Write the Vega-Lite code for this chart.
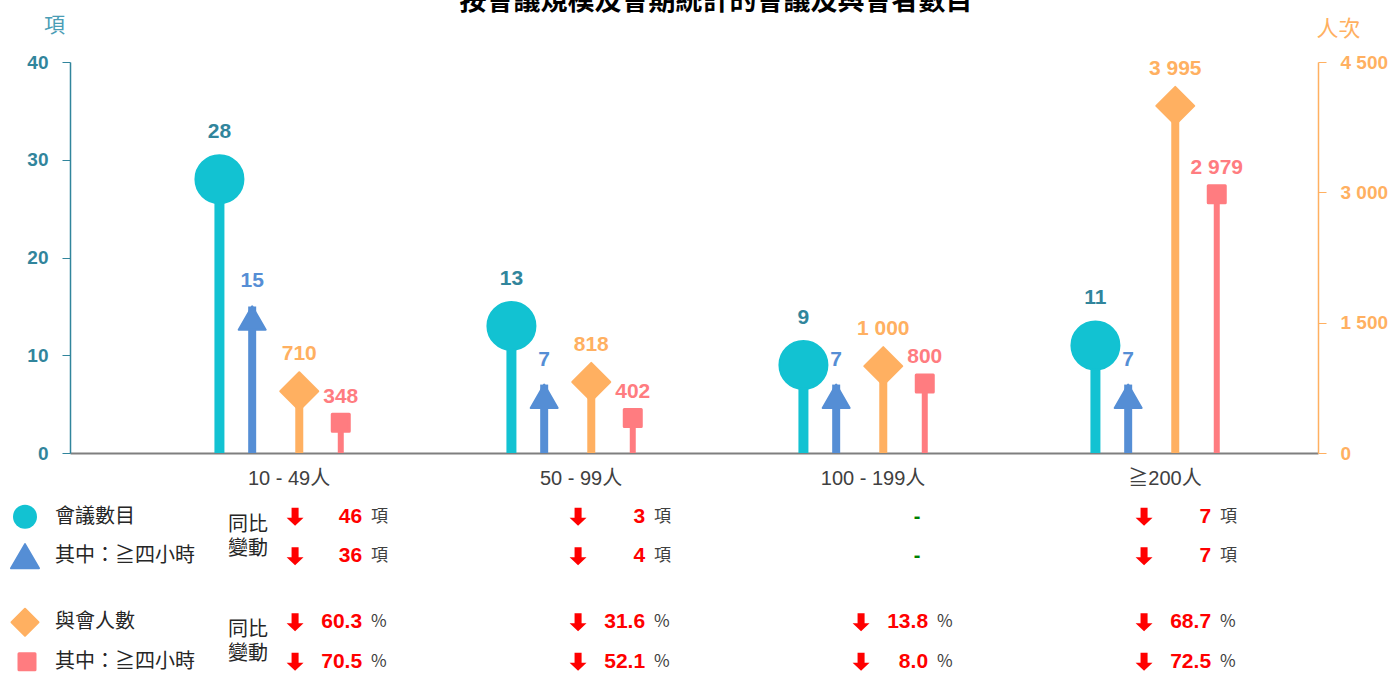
{
  "$schema": "https://vega.github.io/schema/vega-lite/v6.json",
  "width": 1248,
  "height": 391,
  "autosize": {"type": "none"},
  "padding": {"left": 70, "top": 62, "right": 73, "bottom": 220},
  "background": "white",
  "config": {
    "view": {"stroke": null},
    "locale": {"number": {"decimal": ".", "thousands": " ", "grouping": [3], "currency": ["", ""]}}
  },
  "title": {
    "text": "按會議規模及會期統計的會議及與會者數目",
    "font": "Noto Sans CJK TC",
    "fontSize": 27,
    "fontWeight": "bold",
    "color": "#000000",
    "anchor": "middle",
    "offset": -2,
    "dx": 22
  },
  "datasets": {
    "chart": [
      {"cat": "10 - 49人", "series": "會議數目", "axis": "項", "value": 28},
      {"cat": "10 - 49人", "series": "會議其中≧四小時", "axis": "項", "value": 15},
      {"cat": "10 - 49人", "series": "與會人數", "axis": "人次", "value": 710},
      {"cat": "10 - 49人", "series": "與會其中≧四小時", "axis": "人次", "value": 348},
      {"cat": "50 - 99人", "series": "會議數目", "axis": "項", "value": 13},
      {"cat": "50 - 99人", "series": "會議其中≧四小時", "axis": "項", "value": 7},
      {"cat": "50 - 99人", "series": "與會人數", "axis": "人次", "value": 818},
      {"cat": "50 - 99人", "series": "與會其中≧四小時", "axis": "人次", "value": 402},
      {"cat": "100 - 199人", "series": "會議數目", "axis": "項", "value": 9},
      {"cat": "100 - 199人", "series": "會議其中≧四小時", "axis": "項", "value": 7},
      {"cat": "100 - 199人", "series": "與會人數", "axis": "人次", "value": 1000},
      {"cat": "100 - 199人", "series": "與會其中≧四小時", "axis": "人次", "value": 800},
      {"cat": "≧200人", "series": "會議數目", "axis": "項", "value": 11},
      {"cat": "≧200人", "series": "會議其中≧四小時", "axis": "項", "value": 7},
      {"cat": "≧200人", "series": "與會人數", "axis": "人次", "value": 3995},
      {"cat": "≧200人", "series": "與會其中≧四小時", "axis": "人次", "value": 2979}
    ],
    "table": [
      {"cat": "10 - 49人", "group": "會議", "sub": "總數", "dir": "下降", "change": "46", "unit": "項"},
      {"cat": "10 - 49人", "group": "會議", "sub": "其中", "dir": "下降", "change": "36", "unit": "項"},
      {"cat": "10 - 49人", "group": "與會", "sub": "總數", "dir": "下降", "change": "60.3", "unit": "%"},
      {"cat": "10 - 49人", "group": "與會", "sub": "其中", "dir": "下降", "change": "70.5", "unit": "%"},
      {"cat": "50 - 99人", "group": "會議", "sub": "總數", "dir": "下降", "change": "3", "unit": "項"},
      {"cat": "50 - 99人", "group": "會議", "sub": "其中", "dir": "下降", "change": "4", "unit": "項"},
      {"cat": "50 - 99人", "group": "與會", "sub": "總數", "dir": "下降", "change": "31.6", "unit": "%"},
      {"cat": "50 - 99人", "group": "與會", "sub": "其中", "dir": "下降", "change": "52.1", "unit": "%"},
      {"cat": "100 - 199人", "group": "會議", "sub": "總數", "dir": "持平", "change": "-", "unit": ""},
      {"cat": "100 - 199人", "group": "會議", "sub": "其中", "dir": "持平", "change": "-", "unit": ""},
      {"cat": "100 - 199人", "group": "與會", "sub": "總數", "dir": "下降", "change": "13.8", "unit": "%"},
      {"cat": "100 - 199人", "group": "與會", "sub": "其中", "dir": "下降", "change": "8.0", "unit": "%"},
      {"cat": "≧200人", "group": "會議", "sub": "總數", "dir": "下降", "change": "7", "unit": "項"},
      {"cat": "≧200人", "group": "會議", "sub": "其中", "dir": "下降", "change": "7", "unit": "項"},
      {"cat": "≧200人", "group": "與會", "sub": "總數", "dir": "下降", "change": "68.7", "unit": "%"},
      {"cat": "≧200人", "group": "與會", "sub": "其中", "dir": "下降", "change": "72.5", "unit": "%"}
    ],
    "legend": [
      {"column": "圖例", "series": "會議數目", "label": "會議數目", "group": "會議", "sub": "總數"},
      {"column": "圖例", "series": "會議其中≧四小時", "label": "其中：≧四小時", "group": "會議", "sub": "其中"},
      {"column": "圖例", "series": "與會人數", "label": "與會人數", "group": "與會", "sub": "總數"},
      {"column": "圖例", "series": "與會其中≧四小時", "label": "其中：≧四小時", "group": "與會", "sub": "其中"},
      {"column": "同比變動", "series": "", "label": "同比\n變動", "group": "會議", "sub": ""},
      {"column": "同比變動", "series": "", "label": "同比\n變動", "group": "與會", "sub": ""}
    ]
  },
  "resolve": {
    "scale": {
      "x": "independent",
      "y": "independent",
      "xOffset": "independent",
      "yOffset": "independent"
    }
  },
  "layer": [
    {
      "data": {"name": "chart"},
      "transform": [{"filter": "datum.axis === '項'"}],
      "encoding": {
        "x": {
          "field": "cat", "type": "nominal", "sort": null,
          "scale": {"type": "band", "domain": ["10 - 49人", "50 - 99人", "100 - 199人", "≧200人"], "paddingInner": 0, "paddingOuter": 0.137, "align": 0.9125},
          "axis": {
            "title": null, "orient": "bottom", "domainColor": "#7F7F7F", "domainWidth": 2,
            "ticks": false, "tickSize": 0, "labelAngle": 0,
            "labelFont": "Liberation Sans, Noto Sans CJK TC", "labelFontSize": 20,
            "labelColor": "#404040", "labelPadding": 15
          }
        },
        "xOffset": {
          "field": "series", "type": "nominal",
          "scale": {"type": "band", "domain": ["_1", "會議數目", "會議其中≧四小時", "_2", "_3", "_4", "_5", "_6"], "paddingInner": 0, "paddingOuter": 0.458, "align": 0.91}
        },
        "y": {
          "field": "value", "type": "quantitative",
          "scale": {"domain": [0, 40], "nice": false},
          "axis": {
            "orient": "left", "values": [0, 10, 20, 30, 40], "grid": false,
            "title": "項", "titleAngle": 0, "titleX": -16, "titleY": -37,
            "titleAlign": "center", "titleBaseline": "middle",
            "titleColor": "#4A9DB5", "titleFont": "Noto Sans CJK TC", "titleFontSize": 21, "titleFontWeight": "normal",
            "domainColor": "#31859C", "domainWidth": 1.5, "tickColor": "#31859C", "tickSize": 8,
            "labelColor": "#31859C", "labelFont": "Liberation Sans", "labelFontSize": 19,
            "labelFontWeight": "bold", "labelPadding": 14
          }
        },
        "color": {
          "field": "series", "type": "nominal",
          "scale": {"domain": ["會議數目", "會議其中≧四小時", "與會人數", "與會其中≧四小時"], "range": ["#12C2D2", "#558ED5", "#FFB061", "#FF7C80"]},
          "legend": null
        }
      },
      "layer": [
        {
          "transform": [{"filter": "datum.series === '會議數目'"}],
          "layer": [
            {"mark": {"type": "rule", "strokeWidth": 10}, "encoding": {"y2": {"datum": 0}}},
            {"mark": {"type": "point", "shape": "circle", "size": 2304, "filled": true, "opacity": 1, "stroke": "#12C2D2", "strokeWidth": 2}, "encoding": {}},
            {"mark": {"type": "text", "dy": -47, "baseline": "middle", "fontSize": 21, "fontWeight": "bold", "font": "Liberation Sans"},
             "encoding": {"text": {"field": "value", "type": "quantitative", "format": ","}, "color": {"value": "#31859C"}}}
          ]
        },
        {
          "transform": [{"filter": "datum.series === '會議其中≧四小時'"}],
          "layer": [
            {"mark": {"type": "rule", "strokeWidth": 8}, "encoding": {"y2": {"datum": 0}}},
            {"mark": {"type": "point", "shape": "M0,0L1,1.732L-1,1.732Z", "size": 729, "filled": true, "opacity": 1, "stroke": "#558ED5", "strokeWidth": 2, "strokeJoin": "round"}, "encoding": {}},
            {"mark": {"type": "text", "dy": -25, "baseline": "middle", "fontSize": 21, "fontWeight": "bold", "font": "Liberation Sans"},
             "encoding": {"text": {"field": "value", "type": "quantitative", "format": ","}, "color": {"value": "#558ED5"}}}
          ]
        }
      ]
    },
    {
      "data": {"name": "chart"},
      "transform": [{"filter": "datum.axis === '人次'"}],
      "encoding": {
        "x": {
          "field": "cat", "type": "nominal", "sort": null,
          "scale": {"type": "band", "domain": ["10 - 49人", "50 - 99人", "100 - 199人", "≧200人"], "paddingInner": 0, "paddingOuter": 0.137, "align": 0.9125},
          "axis": null
        },
        "xOffset": {
          "field": "series", "type": "nominal",
          "scale": {"type": "band", "domain": ["_1", "_2", "_3", "與會人數", "與會其中≧四小時", "_4"], "paddingInner": 0, "paddingOuter": 0.518, "align": 0.256}
        },
        "y": {
          "field": "value", "type": "quantitative",
          "scale": {"domain": [0, 4500], "nice": false},
          "axis": {
            "orient": "right", "values": [0, 1500, 3000, 4500], "format": ",d", "grid": false,
            "title": "人次", "titleAngle": 0, "titleX": 20, "titleY": -34,
            "titleAlign": "center", "titleBaseline": "middle",
            "titleColor": "#FFB061", "titleFont": "Noto Sans CJK TC", "titleFontSize": 22, "titleFontWeight": "normal",
            "domainColor": "#FFB061", "domainWidth": 1.5, "tickColor": "#FFB061", "tickSize": 8,
            "labelColor": "#FFB061", "labelFont": "Liberation Sans", "labelFontSize": 19,
            "labelFontWeight": "bold", "labelPadding": 14
          }
        },
        "color": {
          "field": "series", "type": "nominal",
          "scale": {"domain": ["會議數目", "會議其中≧四小時", "與會人數", "與會其中≧四小時"], "range": ["#12C2D2", "#558ED5", "#FFB061", "#FF7C80"]},
          "legend": null
        }
      },
      "layer": [
        {
          "transform": [{"filter": "datum.series === '與會人數'"}],
          "layer": [
            {"mark": {"type": "rule", "strokeWidth": 8}, "encoding": {"y2": {"datum": 0}}},
            {"mark": {"type": "point", "shape": "diamond", "size": 1444, "filled": true, "opacity": 1, "stroke": "#FFB061", "strokeWidth": 2, "strokeJoin": "round"}, "encoding": {}},
            {"mark": {"type": "text", "dy": -37, "baseline": "middle", "fontSize": 21, "fontWeight": "bold", "font": "Liberation Sans"},
             "encoding": {"text": {"field": "value", "type": "quantitative", "format": ","}, "color": {"value": "#FFB061"}}}
          ]
        },
        {
          "transform": [{"filter": "datum.series === '與會其中≧四小時'"}],
          "layer": [
            {"mark": {"type": "rule", "strokeWidth": 6}, "encoding": {"y2": {"datum": 0}}},
            {"mark": {"type": "point", "shape": "square", "size": 289, "filled": true, "opacity": 1, "stroke": "#FF7C80", "strokeWidth": 3, "strokeJoin": "round"}, "encoding": {}},
            {"mark": {"type": "text", "dy": -26, "baseline": "middle", "fontSize": 21, "fontWeight": "bold", "font": "Liberation Sans"},
             "encoding": {"text": {"field": "value", "type": "quantitative", "format": ","}, "color": {"value": "#FF7C80"}}}
          ]
        }
      ]
    },
    {
      "data": {"name": "table"},
      "encoding": {
        "x": {
          "field": "cat", "type": "nominal", "sort": null,
          "scale": {"type": "point", "domain": ["10 - 49人", "50 - 99人", "100 - 199人", "≧200人"], "padding": 0.705, "align": 0.732},
          "axis": null
        },
        "y": {
          "field": "group", "type": "nominal",
          "scale": {"type": "band", "domain": ["會議", "與會"], "range": [421.75, 632.75], "paddingInner": 0, "paddingOuter": 0},
          "axis": null
        },
        "yOffset": {
          "field": "sub", "type": "nominal",
          "scale": {"type": "band", "domain": ["總數", "其中"], "paddingInner": 0, "paddingOuter": 0.3354}
        }
      },
      "layer": [
        {
          "transform": [{"filter": "datum.dir === '下降'"}],
          "mark": {"type": "point", "shape": "M-0.39,-1L0.39,-1L0.39,0.1L0.94,0.1L0,1L-0.94,0.1L-0.39,0.1Z", "size": 324, "filled": true, "opacity": 1, "color": "#FF0000", "xOffset": -67},
          "encoding": {}
        },
        {
          "transform": [{"filter": "datum.dir === '下降'"}],
          "mark": {"type": "text", "align": "right", "baseline": "middle", "font": "Liberation Sans", "fontWeight": "bold", "fontSize": 21, "color": "#FF0000"},
          "encoding": {"text": {"field": "change", "type": "nominal"}}
        },
        {
          "transform": [{"filter": "datum.dir === '下降'"}],
          "mark": {"type": "text", "align": "left", "baseline": "middle", "dx": 9, "font": "Noto Sans CJK TC", "fontSize": 17, "color": "#404040"},
          "encoding": {"text": {"field": "unit", "type": "nominal"}}
        },
        {
          "transform": [{"filter": "datum.dir === '持平'"}],
          "mark": {"type": "text", "align": "center", "baseline": "middle", "dx": -11, "font": "Liberation Sans", "fontWeight": "bold", "fontSize": 20, "color": "#008000"},
          "encoding": {"text": {"field": "change", "type": "nominal"}}
        }
      ]
    },
    {
      "data": {"name": "legend"},
      "encoding": {
        "x": {
          "field": "column", "type": "nominal",
          "scale": {"type": "point", "domain": ["圖例", "同比變動"], "range": [-45, 178], "padding": 0},
          "axis": null
        },
        "y": {
          "field": "group", "type": "nominal",
          "scale": {"type": "band", "domain": ["會議", "與會"], "range": [421.75, 632.75], "paddingInner": 0, "paddingOuter": 0},
          "axis": null
        }
      },
      "layer": [
        {
          "transform": [{"filter": "datum.column === '圖例'"}],
          "encoding": {
            "yOffset": {
              "field": "sub", "type": "nominal",
              "scale": {"type": "band", "domain": ["總數", "其中"], "paddingInner": 0, "paddingOuter": 0.3354}
            },
            "color": {
              "field": "series", "type": "nominal",
              "scale": {"domain": ["會議數目", "會議其中≧四小時", "與會人數", "與會其中≧四小時"], "range": ["#12C2D2", "#558ED5", "#FFB061", "#FF7C80"]},
              "legend": null
            }
          },
          "layer": [
            {"transform": [{"filter": "datum.series === '會議數目'"}],
             "mark": {"type": "point", "shape": "circle", "size": 576, "filled": true, "opacity": 1}, "encoding": {}},
            {"transform": [{"filter": "datum.series === '會議其中≧四小時'"}],
             "mark": {"type": "point", "shape": "triangle-up", "size": 784, "filled": true, "opacity": 1, "stroke": "#558ED5", "strokeWidth": 2, "strokeJoin": "round"}, "encoding": {}},
            {"transform": [{"filter": "datum.series === '與會人數'"}],
             "mark": {"type": "point", "shape": "diamond", "size": 729, "filled": true, "opacity": 1, "stroke": "#FFB061", "strokeWidth": 2, "strokeJoin": "round"}, "encoding": {}},
            {"transform": [{"filter": "datum.series === '與會其中≧四小時'"}],
             "mark": {"type": "point", "shape": "square", "size": 256, "filled": true, "opacity": 1, "stroke": "#FF7C80", "strokeWidth": 3, "strokeJoin": "round", "xOffset": 2}, "encoding": {}},
            {"mark": {"type": "text", "align": "left", "baseline": "middle", "dx": 30, "font": "Noto Sans CJK TC", "fontSize": 20, "color": "#262626"},
             "encoding": {"text": {"field": "label", "type": "nominal"}, "color": {"value": "#262626"}}}
          ]
        },
        {
          "transform": [{"filter": "datum.column === '同比變動'"}],
          "mark": {"type": "text", "align": "center", "baseline": "middle", "dy": -12, "lineBreak": "\n", "lineHeight": 24, "font": "Noto Sans CJK TC", "fontSize": 20, "color": "#262626"},
          "encoding": {"text": {"field": "label", "type": "nominal"}}
        }
      ]
    }
  ]
}
